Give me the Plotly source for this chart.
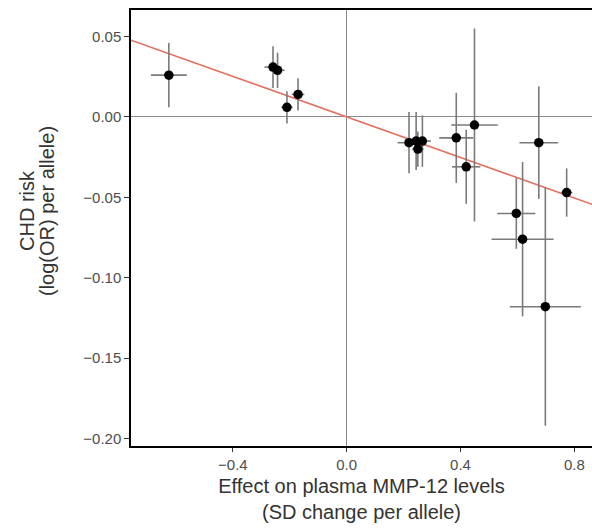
import plotly.graph_objects as go

# Data
x_effect = [-0.625, -0.259, -0.243, -0.210, -0.171, 0.219, 0.244, 0.250, 0.266,
            0.385, 0.449, 0.420, 0.675, 0.773, 0.596, 0.618, 0.698]
x_err = [0.063, 0.030, 0.025, 0.020, 0.022, 0.040, 0.035, 0.020, 0.030,
         0.060, 0.082, 0.050, 0.068, 0.020, 0.067, 0.109, 0.125]
y_risk = [0.026, 0.031, 0.029, 0.006, 0.014, -0.016, -0.015, -0.020, -0.015,
          -0.013, -0.005, -0.031, -0.016, -0.047, -0.060, -0.076, -0.118]
y_err = [0.020, 0.013, 0.011, 0.010, 0.010, 0.019, 0.018, 0.011, 0.016,
         0.028, 0.060, 0.023, 0.035, 0.015, 0.022, 0.048, 0.074]
slope = -0.063
x_range = [-0.758, 0.862]
y_range = [-0.2046, 0.0665]
x_title = "Effect on plasma MMP-12 levels<br>(SD change per allele)"
y_title_lines = ["CHD risk", "(log(OR) per allele)"]

W, H = 592, 529
ML, MR, MT, MB = 131, 0, 10, 83
PW, PH = W - ML - MR, H - MT - MB

fig = go.Figure()
fig.add_trace(go.Scatter(
    x=x_range, y=[slope * v for v in x_range], mode="lines",
    line=dict(color="#E3705F", width=1.6), hoverinfo="skip", showlegend=False))
fig.add_trace(go.Scatter(
    x=x_effect, y=y_risk, mode="markers",
    marker=dict(color="black", size=9.5),
    error_x=dict(type="data", array=x_err, color="#7a7a7a", thickness=1.6, width=0),
    error_y=dict(type="data", array=y_err, color="#7a7a7a", thickness=1.6, width=0),
    showlegend=False))

# y-axis title as two rotated lines (tight line spacing as in the reference)
for px, line in zip([27, 47], y_title_lines):
    fig.add_annotation(
        text=line, textangle=-90, showarrow=False,
        xref="paper", yref="paper",
        x=(px - ML) / PW, y=(MT + PH - 211) / PH,
        xanchor="center", yanchor="middle",
        font=dict(size=20, color="#333333"))

fig.update_layout(
    width=W, height=H,
    margin=dict(l=ML, r=MR, t=MT, b=MB),
    plot_bgcolor="white", paper_bgcolor="white",
    font=dict(family="Liberation Sans, Arial, sans-serif", color="#333333"),
    xaxis=dict(range=x_range, tickvals=[-0.4, 0.0, 0.4, 0.8], tickformat=".1f",
               showgrid=False, zeroline=True, zerolinecolor="#8c8c8c", zerolinewidth=1.2,
               showline=True, linecolor="black", linewidth=1.5, mirror=True,
               ticks="outside", ticklen=4, tickcolor="#333333",
               tickfont=dict(size=15, color="#4d4d4d"),
               title=dict(text=x_title, font=dict(size=20, color="#333333"), standoff=7)),
    yaxis=dict(range=y_range, tickvals=[-0.20, -0.15, -0.10, -0.05, 0.00, 0.05],
               tickformat=".2f",
               showgrid=False, zeroline=True, zerolinecolor="#8c8c8c", zerolinewidth=1.2,
               showline=True, linecolor="black", linewidth=1.5, mirror=False,
               ticks="outside", ticklen=5, tickcolor="#333333",
               tickfont=dict(size=15, color="#4d4d4d")),
)

fig.write_html("out.html")
